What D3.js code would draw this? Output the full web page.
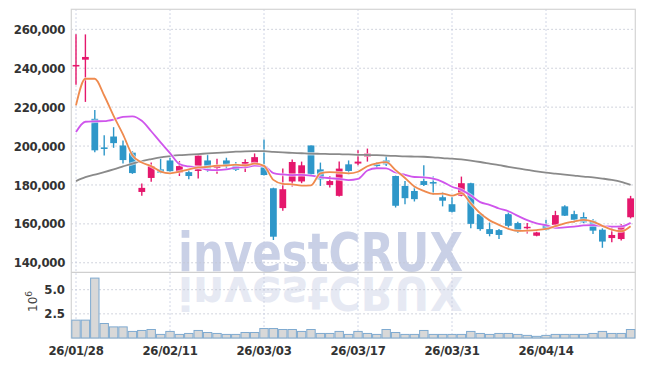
<!DOCTYPE html>
<html><head><meta charset="utf-8">
<script src="https://cdn.jsdelivr.net/npm/d3@7"></script>
<style>
html,body{margin:0;padding:0;background:#fff;}
svg{display:block;}
</style></head>
<body>
<svg id="chart" width="645" height="366" xmlns:xlink="http://www.w3.org/1999/xlink"></svg>
<script>
const dates = ["26/01/28","26/01/29","26/01/30","26/02/02","26/02/03","26/02/04","26/02/05","26/02/06","26/02/09","26/02/10",
"26/02/11","26/02/12","26/02/13","26/02/19","26/02/20","26/02/23","26/02/24","26/02/25","26/02/26","26/02/27",
"26/03/03","26/03/04","26/03/05","26/03/06","26/03/09","26/03/10","26/03/11","26/03/12","26/03/13","26/03/16",
"26/03/17","26/03/18","26/03/19","26/03/20","26/03/23","26/03/24","26/03/25","26/03/26","26/03/27","26/03/30",
"26/03/31","26/04/01","26/04/02","26/04/03","26/04/06","26/04/07","26/04/08","26/04/09","26/04/10","26/04/13",
"26/04/14","26/04/15","26/04/16","26/04/17","26/04/20","26/04/21","26/04/22","26/04/23","26/04/24","26/04/27"];

const openP = [240900,244400,214000,199300,204900,200300,196600,176400,183600,188000,
192600,186300,186600,187200,192600,188700,192600,190100,189700,191100,
189700,178300,168100,181800,181800,200300,188000,180000,174400,190600,
191000,194500,190600,192600,184600,179500,176900,182000,181500,173700,
170100,174400,180900,165000,157300,156800,165000,160400,157900,153900,
159500,159500,169000,165000,163500,161600,157000,152700,152200,163400];
const highP = [257500,257400,218500,205600,209700,202900,197400,180700,191500,193500,
194300,192300,188000,195700,195700,193500,194000,191800,193200,196200,
203400,178600,188400,193100,192000,200300,191500,184600,192000,192600,
197900,198700,191800,194800,184800,182000,179500,190100,184300,176400,
173900,184300,181100,165200,160700,157300,166700,161100,160400,156000,
162100,166700,169600,166700,165900,162500,157700,158200,159900,174400];
const lowP = [231500,222700,196800,195200,199100,191000,185700,174400,181700,186000,
186500,184600,182900,183300,186700,185800,188400,187200,186600,190500,
184800,151700,166700,179200,180900,185000,179500,178700,174100,185500,
190100,192000,188400,189700,168400,170100,171500,179500,174900,169000,
165900,174200,157800,156500,153600,152200,157300,155300,155100,153600,
156500,157900,164000,160400,160400,154800,147700,150600,151400,162800];
const closeP = [241700,245800,197800,198500,201500,192800,186100,178500,189700,186300,
187000,189700,184600,195200,188400,190100,190100,187700,191800,194300,
185100,153400,177800,191800,190100,185500,182900,182000,188400,187200,
192000,196200,189700,190600,169300,173200,172700,180000,180700,171900,
166200,180900,160000,157300,154800,154300,159000,156000,158500,155600,
156800,164500,164200,162100,160800,156500,150900,154300,158700,173100];

const ma5 = [220900,234600,234600,226000,215500,206000,195300,191500,189700,186900,
186000,186800,188000,189000,189300,189900,190000,190500,190000,191000,
189800,182600,180600,180300,179700,179800,186000,186600,186300,186000,
186800,189600,191100,191700,187600,183600,179200,177000,175400,175500,
174500,175800,170500,165500,161800,159500,157400,156400,156500,156800,
157400,158800,160300,161200,162000,161200,159000,157000,156200,158800];
const ma10 = [207200,212500,212700,212800,213600,215000,215300,213000,207600,201900,
196400,190800,189500,189100,187800,187600,188000,188900,189100,189900,
189700,186100,185400,185100,185200,184800,184000,183500,183100,182500,
183100,187400,188600,188500,186400,185200,184100,183900,183200,181600,
179100,177500,174600,171200,169800,167900,166500,164100,161900,160300,
159300,157900,158200,158600,159200,159400,158800,158600,158700,160500];
const ma60 = [182000,184000,185300,186600,188000,189500,191000,192300,193300,194200,
194800,195300,195600,195900,196200,196500,196800,197100,197300,197400,
197400,197000,196700,196500,196300,196100,196000,195900,195800,195700,
195500,195400,195300,195100,194900,194700,194600,194500,194200,193800,
193500,193100,192500,191800,191000,190200,189300,188500,187800,187000,
186300,185800,185300,184800,184300,183900,183300,182600,181600,180000];

const volume = [1.85,1.85,6.2,1.5,1.15,1.15,0.68,0.78,0.88,0.37,
0.68,0.37,0.47,0.78,0.57,0.47,0.37,0.37,0.57,0.57,
0.98,0.98,0.88,0.88,0.68,0.88,0.47,0.47,0.68,0.37,
0.68,0.47,0.37,0.88,0.57,0.37,0.37,0.78,0.37,0.37,
0.37,0.37,0.68,0.47,0.37,0.47,0.47,0.37,0.27,0.17,
0.27,0.37,0.37,0.37,0.37,0.47,0.68,0.47,0.47,0.88].map(v => v * 1e6);

const dateTicks = ["26/01/28","26/02/11","26/03/03","26/03/17","26/03/31","26/04/14"];
const priceTicks = [140000,160000,180000,200000,220000,240000,260000];
const volTicks = [2.5e6, 5.0e6];

const svg = d3.select("#chart");
const L = 71.3, R = 635.3, T = 9.3, SEP = 272.3, B = 338;

const x = d3.scaleBand().domain(dates).range([L, R]).padding(0);
const bw = x.bandwidth();
const cx = d => x(d) + bw / 2;
const y = d3.scaleLinear().domain([135100, 270300]).range([SEP, T]);
const yv = d3.scaleLinear().domain([0, 6.8e6]).range([B, SEP]);

const fontAxis = "'DejaVu Sans Condensed', 'DejaVu Sans', sans-serif";

// watermark with reflection (reflection reuses the same text element)
const wm = svg.append("g");
wm.append("text").attr("id", "wmText").attr("x", 178).attr("y", 271)
  .attr("textLength", 285).attr("lengthAdjust", "spacingAndGlyphs")
  .style("font-family", "'DejaVu Sans', sans-serif").style("font-weight", "bold")
  .style("font-size", "54px").attr("fill", "#c9d0e6").text("investCRUX");
wm.append("use").attr("href", "#wmText").attr("xlink:href", "#wmText")
  .attr("transform", `translate(0,${SEP}) scale(1,-0.86) translate(0,${-SEP - 4})`)
  .attr("opacity", 0.45);

// gridlines
const grid = svg.append("g").attr("stroke-dasharray", "1.5,2.5").attr("stroke-width", 1);
grid.selectAll("line.h").data(priceTicks).join("line")
  .attr("x1", L).attr("x2", R).attr("y1", d => y(d)).attr("y2", d => y(d)).attr("stroke", "#c3c7d3");
grid.selectAll("line.v2").data(volTicks).join("line").attr("class","v2")
  .attr("x1", L).attr("x2", R).attr("y1", d => yv(d)).attr("y2", d => yv(d)).attr("stroke", "#c3c7d3");
grid.selectAll("line.vx").data(dateTicks).join("line").attr("class","vx")
  .attr("x1", d => cx(d)).attr("x2", d => cx(d)).attr("y1", T).attr("y2", B).attr("stroke", "#c2c9de");

// frame
svg.append("rect").attr("x", L).attr("y", T).attr("width", R - L).attr("height", B - T)
  .attr("fill", "none").attr("stroke", "#d4d4d4").attr("stroke-width", 1.2);
svg.append("line").attr("x1", L).attr("x2", R).attr("y1", SEP).attr("y2", SEP)
  .attr("stroke", "#cfcfcf").attr("stroke-width", 1.2);

// volume bars
svg.append("g").selectAll("rect").data(dates).join("rect")
  .attr("x", d => x(d) + 0.5).attr("width", bw - 1)
  .attr("y", (d,i) => yv(volume[i])).attr("height", (d,i) => B - yv(volume[i]))
  .attr("fill", "#d8d8d8").attr("stroke", "#7faad0").attr("stroke-width", 1);

// candles
const up = "#e5176c", down = "#2e97c9";
const cg = svg.append("g");
dates.forEach((d, i) => {
  const col = closeP[i] >= openP[i] ? up : down;
  cg.append("line").attr("x1", cx(d)).attr("x2", cx(d))
    .attr("y1", y(highP[i])).attr("y2", y(lowP[i])).attr("stroke", col).attr("stroke-width", 1.4);
  const top = y(Math.max(openP[i], closeP[i])), bot = y(Math.min(openP[i], closeP[i]));
  cg.append("rect").attr("x", cx(d) - bw * 0.36).attr("width", bw * 0.72)
    .attr("y", top).attr("height", Math.max(1.5, bot - top)).attr("fill", col);
});

// moving averages
const line = arr => d3.line().x((v, i) => cx(dates[i])).y(v => y(v)).curve(d3.curveMonotoneX)(arr);
[[ma60, "#8a8a8a"], [ma10, "#cf55ec"], [ma5, "#ef8a4e"]].forEach(([arr, col]) => {
  svg.append("path").attr("d", line(arr)).attr("fill", "none").attr("stroke", "#fff")
    .attr("stroke-opacity", 0.6).attr("stroke-width", 3.5);
  svg.append("path").attr("d", line(arr)).attr("fill", "none").attr("stroke", col).attr("stroke-width", 1.8);
});

// axis labels
const fmt = d3.format(",");
svg.append("g").selectAll("text").data(priceTicks).join("text")
  .attr("x", 65).attr("y", d => y(d)).attr("dy", "0.35em").attr("text-anchor", "end")
  .style("font-family", fontAxis).style("font-weight", "bold").style("font-size", "13px")
  .attr("fill", "#333").attr("letter-spacing", "-0.3").text(d => fmt(d));
svg.append("g").selectAll("text").data(volTicks).join("text")
  .attr("x", 65).attr("y", d => yv(d)).attr("dy", "0.35em").attr("text-anchor", "end")
  .style("font-family", fontAxis).style("font-weight", "bold").style("font-size", "13px")
  .attr("fill", "#333").text(d => d3.format(".1f")(d / 1e6));
svg.append("g").selectAll("text").data(dateTicks).join("text")
  .attr("x", d => cx(d)).attr("y", 355).attr("text-anchor", "middle")
  .style("font-family", fontAxis).style("font-weight", "bold").style("font-size", "13px")
  .attr("fill", "#333").attr("letter-spacing", "-0.3").text(d => d);
const vl = svg.append("text").attr("transform", "translate(37,312) rotate(-90)")
  .style("font-family", "'DejaVu Sans', sans-serif").style("font-size", "12px").attr("fill", "#444");
vl.append("tspan").text("10");
vl.append("tspan").attr("dy", "-5").style("font-size", "9px").text("6");
</script>
</body></html>
